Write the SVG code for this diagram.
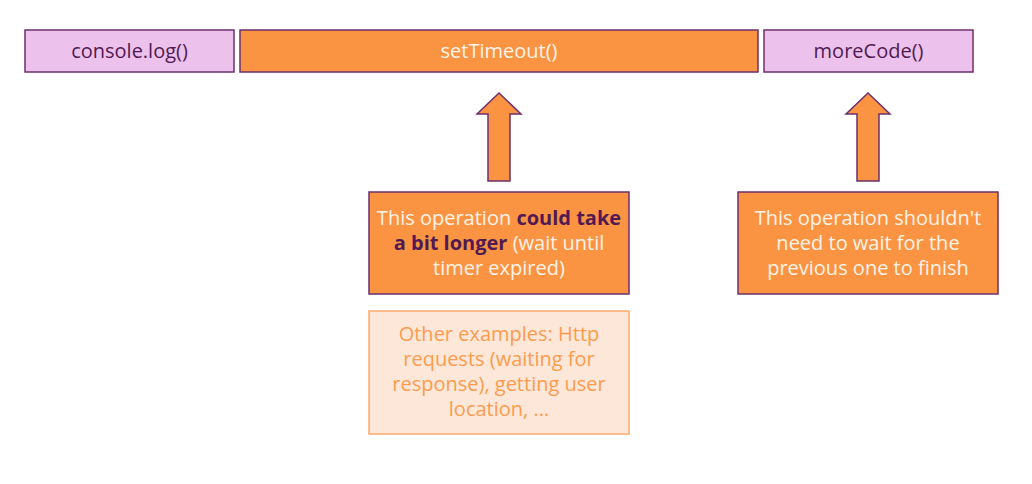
<svg xmlns="http://www.w3.org/2000/svg" width="1032" height="484" viewBox="0 0 1032 484">
<style>
.pink{fill:#ecc1ec;stroke:#6e2f6e;stroke-width:1.5}
.orange{fill:#fb9442;stroke:#6e2f6e;stroke-width:1.5}
.light{fill:#fde7d8;stroke:#fbab6e;stroke-width:1.5}
text{font-family:"Open Sans","Noto Sans",sans-serif;font-size:20px;text-anchor:middle}
.dark{fill:#521a52}
.white{fill:#fff3e8}
.soft{fill:#fb9c4e}
.b{font-weight:bold;fill:#521a52}
</style>
<rect width="1032" height="484" fill="#ffffff"/>
<g id="console-log">
<rect class="pink" x="25" y="30" width="209" height="42"/>
<text class="dark" x="129.5" y="58">console.log()</text>
</g>
<g id="set-timeout">
<rect class="orange" x="240" y="30" width="518" height="42"/>
<text class="white" x="499" y="58">setTimeout()</text>
</g>
<g id="more-code">
<rect class="pink" x="764" y="30" width="209" height="42"/>
<text class="dark" x="868.5" y="58">moreCode()</text>
</g>
<g id="connectors">
<polygon class="orange" points="499,93 521,114 510,114 510,181 488,181 488,114 477,114"/>
<polygon class="orange" points="868,93 890,114 879,114 879,181 857,181 857,114 846,114"/>
</g>
<g id="could-take-longer">
<rect class="orange" x="369" y="192" width="260" height="102"/>
<text class="white" x="499" y="225">This operation <tspan class="b">could take</tspan></text>
<text class="white" x="499" y="250"><tspan class="b">a bit longer</tspan> (wait until</text>
<text class="white" x="499" y="275">timer expired)</text>
</g>
<g id="shouldnt-wait">
<rect class="orange" x="738" y="192" width="260" height="102"/>
<text class="white" x="868" y="225">This operation shouldn't</text>
<text class="white" x="868" y="250">need to wait for the</text>
<text class="white" x="868" y="275">previous one to finish</text>
</g>
<g id="other-examples">
<rect class="light" x="369" y="311" width="260" height="123"/>
<text class="soft" x="499" y="341">Other examples: Http</text>
<text class="soft" x="499" y="366">requests (waiting for</text>
<text class="soft" x="499" y="391">response), getting user</text>
<text class="soft" x="499" y="416">location, ...</text>
</g>
</svg>
